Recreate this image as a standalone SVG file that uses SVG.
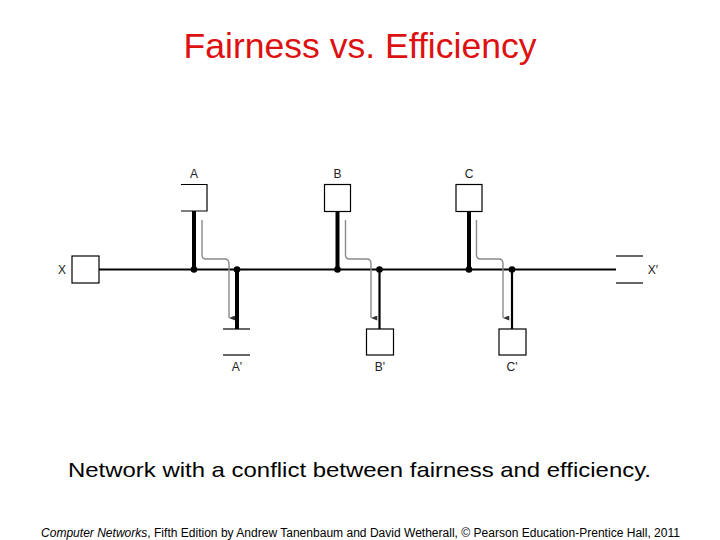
<svg xmlns="http://www.w3.org/2000/svg" width="720" height="540" viewBox="0 0 720 540">
<defs>
<style>
.t{font-family:"Liberation Sans",Arial,sans-serif}
.lbl{font-family:"Liberation Sans",Arial,sans-serif;font-size:12px;fill:#222;text-anchor:middle}
.box{fill:#fff;stroke:#000;stroke-width:1.2}
.thin{stroke:#000;stroke-width:1.2;fill:none}
.bus{stroke:#000;stroke-width:2.2;fill:none}
.stub{stroke:#000;stroke-width:4;fill:none}
.flow{stroke:#8a8a8a;stroke-width:1.4;fill:none}
</style>
<marker id="ah" viewBox="0 0 8 10" refX="4" refY="10" markerWidth="5" markerHeight="8" orient="auto-start-reverse" markerUnits="userSpaceOnUse">
<path d="M0,0 L8,0 L4,10 Z" fill="#333"/>
</marker>
</defs>
<rect width="720" height="540" fill="#fff"/>
<text class="t" x="360" y="58" font-size="35" fill="#dd1111" text-anchor="middle" textLength="353" lengthAdjust="spacingAndGlyphs">Fairness vs. Efficiency</text>

<g id="connectors">
<line class="bus" x1="99" y1="269.5" x2="616" y2="269.5"/>
<line class="stub" x1="194" y1="211" x2="194" y2="269"/>
<line class="stub" x1="237" y1="269" x2="237" y2="329"/>
<line class="stub" x1="337.5" y1="211" x2="337.5" y2="269"/>
<line class="bus" x1="379.5" y1="269" x2="379.5" y2="329"/>
<line class="stub" x1="469" y1="211" x2="469" y2="269"/>
<line class="bus" x1="512" y1="269" x2="512" y2="329"/>
<circle cx="194" cy="269.5" r="3.3"/>
<circle cx="237" cy="269.5" r="3.3"/>
<circle cx="337.5" cy="269.5" r="3.3"/>
<circle cx="379.5" cy="269.5" r="3.3"/>
<circle cx="469" cy="269.5" r="3.3"/>
<circle cx="512" cy="269.5" r="3.3"/>
<path class="flow" d="M202,220 V255 Q202,259 206,259 H225 Q229,259 229,264 V318" marker-end="url(#ah)"/>
<path class="flow" d="M345.5,220 V255 Q345.5,259 349.5,259 H367 Q371,259 371,264 V318" marker-end="url(#ah)"/>
<path class="flow" d="M476.5,220 V255 Q476.5,259 480.5,259 H499 Q503,259 503,264 V318" marker-end="url(#ah)"/>
</g>

<g id="X">
<rect class="box" x="72" y="256" width="27" height="27"/>
<text class="lbl" x="62" y="274">X</text>
</g>
<g id="Xp">
<line class="thin" x1="616" y1="256" x2="643" y2="256"/>
<line class="thin" x1="616" y1="283" x2="643" y2="283"/>
<text class="lbl" x="653" y="274">X′</text>
</g>
<g id="A">
<path class="thin" d="M181,184.5 H207 V211 H181"/>
<text class="lbl" x="194" y="178">A</text>
</g>
<g id="B">
<rect class="box" x="324.5" y="184.5" width="26" height="27"/>
<text class="lbl" x="337.5" y="178">B</text>
</g>
<g id="C">
<rect class="box" x="456" y="184.5" width="26" height="27"/>
<text class="lbl" x="469" y="178">C</text>
</g>
<g id="Ap">
<line class="thin" x1="223" y1="329" x2="250" y2="329"/>
<line class="thin" x1="223" y1="355" x2="250" y2="355"/>
<text class="lbl" x="237" y="371">A'</text>
</g>
<g id="Bp">
<rect class="box" x="366.5" y="329" width="27" height="26"/>
<text class="lbl" x="380" y="371">B'</text>
</g>
<g id="Cp">
<rect class="box" x="499" y="329" width="27" height="26"/>
<text class="lbl" x="512" y="371">C'</text>
</g>

<text class="t" x="359.5" y="476.5" font-size="21" fill="#000" text-anchor="middle" textLength="583" lengthAdjust="spacingAndGlyphs">Network with a conflict between fairness and efficiency.</text>
<text class="t" x="41" y="537" font-size="12.5" fill="#000" textLength="639" lengthAdjust="spacingAndGlyphs"><tspan font-style="italic">Computer Networks</tspan>, Fifth Edition by Andrew Tanenbaum and David Wetherall, © Pearson Education-Prentice Hall, 2011</text>
</svg>
